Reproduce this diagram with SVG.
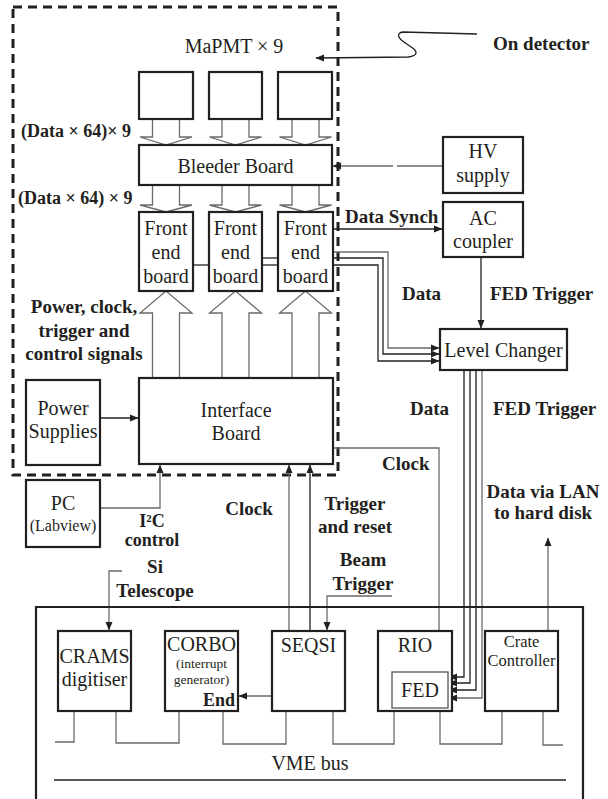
<svg xmlns="http://www.w3.org/2000/svg" width="608" height="799" viewBox="0 0 608 799">
<defs>
<marker id="ah" markerWidth="9" markerHeight="8" refX="8" refY="4" orient="auto" markerUnits="userSpaceOnUse">
<path d="M0,0.5 L8.5,4 L0,7.5 z" fill="#231f20"/>
</marker>
<style>
.box{fill:#fff;stroke:#231f20;stroke-width:2.2}
.thin{fill:#fff;stroke:#555;stroke-width:1.3}
.c{fill:none;stroke:#6a6a6a;stroke-width:1.3}
.k{fill:none;stroke:#231f20;stroke-width:1.3}
.h{fill:#fff;stroke:#6a6a6a;stroke-width:1.3}
text{font-family:"Liberation Serif","Times New Roman","DejaVu Serif",serif;fill:#231f20}
.t{font-size:20px;text-anchor:middle}
.b{font-size:19px;font-weight:bold}
.bm{font-size:19px;font-weight:bold;text-anchor:middle}
</style>
</defs>
<rect width="608" height="799" fill="#fff"/>

<!-- dashed on-detector boundary -->
<rect id="detector-boundary" x="13" y="7" width="325" height="468" fill="none" stroke="#231f20" stroke-width="3" stroke-dasharray="9 6"/>

<g id="connectors">
  <polyline class="h" points="152.5,119 152.5,137 140,137 166,145 192,137 179.5,137 179.5,119"/>
  <polyline class="h" points="222,119 222,137 209.5,137 235.5,145 261.5,137 249,137 249,119"/>
  <polyline class="h" points="292,119 292,137 279.5,137 305.5,145 331.5,137 319,137 319,119"/>
  <polyline class="h" points="152.5,185 152.5,205 140,205 166,212 192,205 179.5,205 179.5,185"/>
  <polyline class="h" points="222,185 222,205 209.5,205 235.5,212 261.5,205 249,205 249,185"/>
  <polyline class="h" points="292,185 292,205 279.5,205 305.5,212 331.5,205 319,205 319,185"/>
  <polyline class="h" points="152.5,378 152.5,313 140,313 166,291 192,313 179.5,313 179.5,378"/>
  <polyline class="h" points="222,378 222,313 209.5,313 235.5,291 261.5,313 249,313 249,378"/>
  <polyline class="h" points="292,378 292,313 279.5,313 305.5,291 331.5,313 319,313 319,378"/>
  <line class="k" x1="193" y1="265" x2="209" y2="265"/>
  <line class="k" x1="262" y1="258" x2="278" y2="258"/>
  <line class="k" x1="262" y1="265" x2="278" y2="265"/>
  <path class="k" d="M477,34 L403,32 C396,33 398,38 404,42 L414,49 C418,53 416,56 408,57 L316,58" stroke-width="1.6" marker-end="url(#ah)"/>
  <line class="c" x1="443" y1="166" x2="397" y2="166"/>
  <line class="c" x1="393" y1="166" x2="333" y2="166" marker-end="url(#ah)"/>
  <line class="k" x1="333" y1="229" x2="442" y2="229" marker-end="url(#ah)"/>
  <polyline class="c" points="333,252 388,252 388,348 439,348" marker-end="url(#ah)"/>
  <polyline class="k" points="333,258 383,258 383,354 439,354" marker-end="url(#ah)"/>
  <polyline class="k" points="333,265 378,265 378,361 439,361" marker-end="url(#ah)"/>
  <line class="k" x1="481" y1="257" x2="481" y2="328" marker-end="url(#ah)"/>
  <polyline class="k" points="464,370 464,677 449,677" marker-end="url(#ah)"/>
  <polyline class="k" points="470,370 470,683 449,683" marker-end="url(#ah)"/>
  <polyline class="k" points="476,370 476,690 449,690" marker-end="url(#ah)"/>
  <polyline class="c" points="482,370 482,698 449,698" marker-end="url(#ah)"/>
  <line class="k" x1="100" y1="418" x2="138" y2="418" marker-end="url(#ah)"/>
  <polyline class="c" points="100,508 160,508 160,465" marker-end="url(#ah)"/>
  <line class="c" x1="289" y1="631" x2="289" y2="465" marker-end="url(#ah)"/>
  <line class="k" x1="310" y1="631" x2="310" y2="465" marker-end="url(#ah)"/>
  <polyline class="c" points="333,448 439,448 439,671" marker-end="url(#ah)"/>
  <polyline class="c" points="392,596 327,596 327,630" marker-end="url(#ah)"/>
  <polyline class="c" points="122,571 109,571 109,630" marker-end="url(#ah)"/>
  <line class="c" x1="272" y1="696" x2="239" y2="696" marker-end="url(#ah)"/>
  <line class="c" x1="548" y1="631" x2="548" y2="538" marker-end="url(#ah)"/>
  <polyline class="c" points="74,711 74,742 55,742"/>
  <polyline class="c" points="116,711 116,743 179,743 179,711"/>
  <polyline class="c" points="223,711 223,744 286,744 286,711"/>
  <polyline class="c" points="333,711 333,744 394,744 394,711"/>
  <polyline class="c" points="440,711 440,744 502,744 502,711"/>
  <polyline class="c" points="543,711 543,745 563,745"/>
  <line x1="54" y1="780" x2="566" y2="780" stroke="#231f20" stroke-width="1.3"/>
</g>

<path id="vme-crate" d="M36,799 L36,607 L583,607 L583,799" fill="none" stroke="#231f20" stroke-width="2.2"/>

<g id="pmt1"><rect class="box" x="139" y="72" width="54" height="47"/></g>
<g id="pmt2"><rect class="box" x="209" y="72" width="53" height="47"/></g>
<g id="pmt3"><rect class="box" x="278" y="72" width="54" height="47"/></g>
<g id="mapmt-label"><text class="t" x="234" y="53">MaPMT × 9</text></g>

<g id="bleeder"><rect class="box" x="139" y="145" width="193" height="40"/><text class="t" x="235.5" y="173">Bleeder Board</text></g>

<g id="fe1"><rect class="box" x="139" y="212" width="54" height="79"/>
<text class="t" x="166" y="235">Front</text><text class="t" x="166" y="259">end</text><text class="t" x="166" y="283">board</text></g>
<g id="fe2"><rect class="box" x="209" y="212" width="53" height="79"/>
<text class="t" x="235.5" y="235">Front</text><text class="t" x="235.5" y="259">end</text><text class="t" x="235.5" y="283">board</text></g>
<g id="fe3"><rect class="box" x="278" y="212" width="55" height="79"/>
<text class="t" x="305.5" y="235">Front</text><text class="t" x="305.5" y="259">end</text><text class="t" x="305.5" y="283">board</text></g>

<g id="hv"><rect class="box" x="443" y="137" width="80" height="56"/>
<text class="t" x="483" y="158">HV</text><text class="t" x="483" y="182">supply</text></g>
<g id="ac"><rect class="box" x="443" y="202" width="80" height="55"/>
<text class="t" x="483" y="225">AC</text><text class="t" x="483" y="248">coupler</text></g>
<g id="level"><rect class="box" x="440" y="329" width="127" height="41"/>
<text class="t" x="503.5" y="357">Level Changer</text></g>

<g id="interface"><rect class="box" x="139" y="378" width="194" height="86"/>
<text class="t" x="236" y="417">Interface</text><text class="t" x="236" y="440">Board</text></g>
<g id="power"><rect class="box" x="26" y="380" width="74" height="85"/>
<text class="t" x="63" y="415">Power</text><text class="t" x="63" y="438">Supplies</text></g>
<g id="pc"><rect class="box" x="26" y="480" width="74" height="67"/>
<text class="t" x="63" y="510">PC</text><text class="t" x="63" y="531" style="font-size:16px">(Labview)</text></g>

<g id="crams"><rect class="box" x="58" y="631" width="73" height="80"/>
<text class="t" x="94.5" y="663">CRAMS</text><text class="t" x="94.5" y="686">digitiser</text></g>
<g id="corbo"><rect class="box" x="165" y="631" width="73" height="80"/>
<text class="t" x="201.5" y="651">CORBO</text>
<text class="t" x="201.5" y="668" style="font-size:13.5px">(interrupt</text>
<text class="t" x="201.5" y="684" style="font-size:13.5px">generator)</text>
<text class="b" x="235" y="706" text-anchor="end" style="font-size:18px">End</text></g>
<g id="seqsi"><rect class="box" x="272" y="631" width="73" height="80"/>
<text class="t" x="308.5" y="652">SEQSI</text></g>
<g id="rio"><rect class="box" x="378" y="631" width="74" height="80"/>
<text class="t" x="415" y="652">RIO</text></g>
<g id="fed"><rect class="thin" x="392" y="672" width="56" height="36"/>
<text class="t" x="420" y="697">FED</text></g>
<g id="crate"><rect class="box" x="485" y="631" width="73" height="80"/>
<text class="t" x="521.5" y="647" style="font-size:16.5px">Crate</text>
<text class="t" x="521.5" y="666" style="font-size:16.5px">Controller</text></g>
<g id="vme-bus-label"><text class="t" x="310" y="770">VME bus</text></g>

<g id="labels">
<text class="b" x="493" y="50">On detector</text>
<text class="b" x="21" y="137" style="font-size:18px">(Data × 64)× 9</text>
<text class="b" x="18" y="204" style="font-size:18px">(Data × 64) × 9</text>
<text class="b" x="345" y="223">Data Synch</text>
<text class="b" x="402" y="300">Data</text>
<text class="b" x="490" y="300">FED Trigger</text>
<text class="bm" x="84" y="313">Power, clock,</text>
<text class="bm" x="84" y="337">trigger and</text>
<text class="bm" x="84" y="360">control signals</text>
<text class="b" x="410" y="415">Data</text>
<text class="b" x="493" y="415">FED Trigger</text>
<text class="b" x="382" y="470">Clock</text>
<text class="bm" x="249" y="515">Clock</text>
<text class="bm" x="355" y="510">Trigger</text>
<text class="bm" x="355" y="533">and reset</text>
<text class="bm" x="363" y="566">Beam</text>
<text class="bm" x="363" y="590">Trigger</text>
<text class="bm" x="543" y="498">Data via LAN</text>
<text class="bm" x="543" y="519">to hard disk</text>
<text class="bm" x="152" y="527" style="font-size:18px">I²C</text>
<text class="bm" x="152" y="546" style="font-size:18px">control</text>
<text class="bm" x="155" y="573">Si</text>
<text class="bm" x="155" y="597">Telescope</text>
</g>
</svg>
